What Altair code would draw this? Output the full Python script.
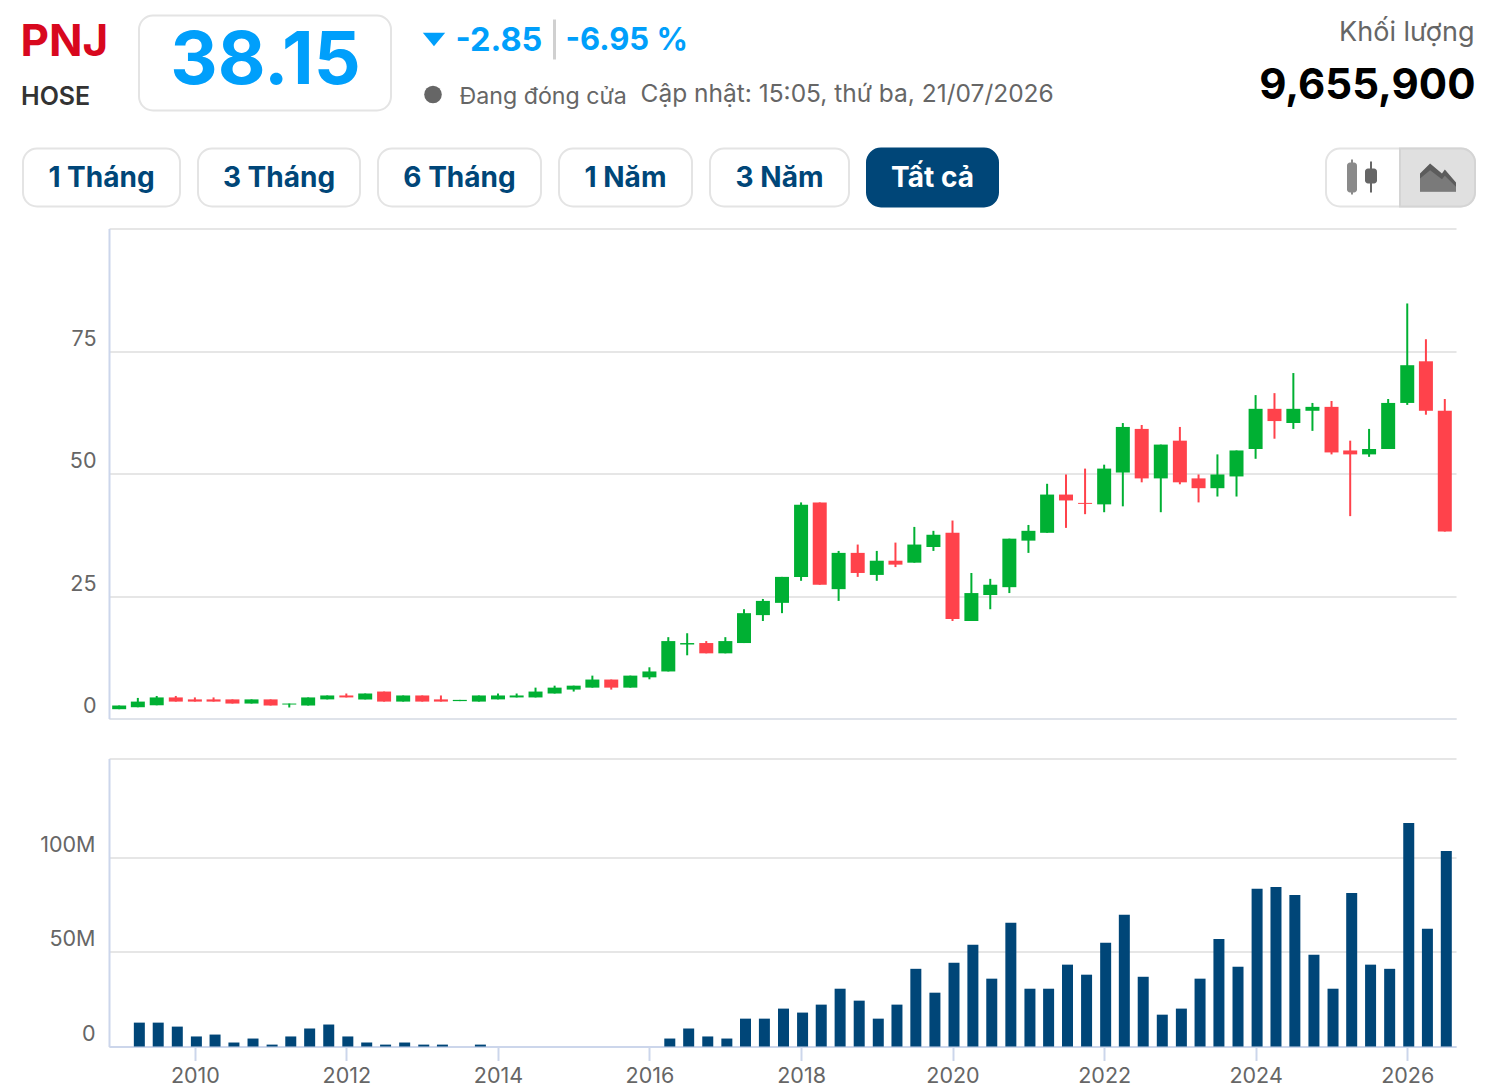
import altair as alt
import pandas as pd

# ---------- chart values ----------
OPEN = [1.9,2.3,2.7,4.3,3.9,3.9,3.9,3.05,3.9,2.85,2.65,3.9,4.7,3.9,5.5,3.45,4.7,3.9,3.55,3.45,3.9,4.3,4.3,5.1,5.9,6.3,7.95,6.3,8.4,
        9.6,15.1,15.4,13.3,15.4,21.1,23.6,28.9,44.1,26.4,33.8,29.3,32.2,31.8,35.0,37.9,19.9,25.2,26.8,36.3,37.9,
        45.7,44.0,43.7,50.2,59.1,49.0,56.7,49.0,47.0,49.4,55.0,63.2,60.3,62.8,63.6,54.7,53.9,55.0,64.4,72.9,62.8]
CLOSE = [2.65,3.45,4.3,3.45,3.45,3.45,3.05,3.9,2.65,3.05,4.3,4.7,4.3,5.1,3.45,4.7,3.45,3.45,3.8,4.7,4.7,4.7,5.5,6.3,6.7,7.95,6.3,8.75,9.6,
         15.8,15.4,13.3,15.8,21.5,24.0,28.9,43.6,27.3,33.8,29.7,32.2,31.4,35.5,37.5,20.3,25.6,27.3,36.7,38.3,45.7,
         44.5,43.8,51.0,59.5,49.0,55.9,48.2,47.0,49.8,54.7,63.2,60.7,63.2,63.6,54.3,53.9,55.0,64.4,72.1,62.8,38.15]
HIGH = [2.65,4.2,4.6,4.6,4.3,4.3,3.9,3.9,3.9,3.05,4.3,4.7,5.1,5.1,5.5,4.7,4.7,4.7,3.8,4.7,5.1,5.1,6.3,6.7,6.7,8.75,7.95,8.75,10.45,
        16.6,17.4,15.8,16.6,22.3,24.4,28.9,44.1,44.1,34.2,35.5,34.2,35.9,39.1,38.3,40.4,29.7,28.5,36.7,39.5,47.9,
        49.8,51.0,51.8,60.3,59.9,55.9,59.5,49.8,53.9,54.7,66.0,66.4,70.5,64.4,64.8,56.7,59.1,65.2,84.7,77.4,65.2]
LOW = [1.9,2.3,2.7,3.45,3.45,3.45,3.05,3.05,2.65,2.25,2.65,3.9,4.3,3.9,3.45,3.45,3.45,3.45,3.55,3.45,3.9,4.3,4.3,5.1,5.5,6.3,5.9,6.3,8.0,
       9.6,12.9,13.3,13.3,15.4,19.9,21.5,28.1,27.3,24.0,28.9,28.1,30.9,31.8,34.2,19.9,19.9,22.3,25.6,33.8,37.9,
       38.9,41.7,42.1,43.3,48.2,42.1,47.8,44.1,45.3,45.3,53.0,57.1,59.1,58.7,53.9,41.3,53.4,55.0,64.0,62.0,38.15]
VOLUME = [12.6,12.6,10.5,5.3,6.3,2.1,4.2,1.0,5.3,9.5,11.6,5.3,2.1,1.0,2.1,1.0,1.0,0,1.0,
          0,0,0,0,0,0,0,0,0,
          4.2,9.5,5.3,4.2,14.7,14.7,20.0,17.9,22.1,30.5,24.2,14.7,22.1,41.0,28.4,44.2,53.7,35.8,65.3,30.5,
          30.5,43.2,37.9,54.7,69.5,36.8,16.8,20.0,35.8,56.8,42.1,83.2,84.2,80.0,48.4,30.5,81.0,43.2,41.0,117.9,62.1,103.2]

START_YEAR = 2009
TICK_YEARS = [2010, 2012, 2014, 2016, 2018, 2020, 2022, 2024, 2026]
PRICE_TICKS = [0, 25, 50, 75, 100]
VOLUME_TICKS = [0, 50, 100, 152]

BUTTONS = ["1 Tháng", "3 Tháng", "6 Tháng", "1 Năm", "3 Năm", "Tất cả"]
# ----------------------------------

GREEN, RED = "#00b033", "#ff424b"
NAVY, BLUE = "#004678", "#009ffb"
GRID, AXIS, LABEL = "#e6e6e6", "#ccd6eb", "#666666"
FONT = "Inter"
PLOT_L, PLOT_T = 109, 229


def quarter(i):
    return f"{START_YEAR + i // 4}-{(i % 4) * 3 + 1:02d}-01"


candles = pd.DataFrame({
    "date": [quarter(i) for i in range(len(OPEN))],
    "open": OPEN, "close": CLOSE, "high": HIGH, "low": LOW,
})
candles["dir"] = ["up" if c >= o else "down" for o, c in zip(OPEN, CLOSE)]
volume = pd.DataFrame({"date": [quarter(i + 1) for i in range(len(VOLUME))], "volume": VOLUME})

x_scale = alt.Scale(domain=[alt.DateTime(year=2008, month=11, date=13),
                            alt.DateTime(year=2026, month=8, date=24)], nice=False, padding=0)
color = alt.Color("dir:N", legend=None,
                  scale=alt.Scale(domain=["up", "down"], range=[GREEN, RED]))

# header helpers: widget positions are given in page pixels
def px(x):
    return alt.value(x - PLOT_L)
def py(y):
    return alt.value(y - PLOT_T)

blank = pd.DataFrame({"k": [0]})

def text(s, x, y, size, col, weight=400, align="left"):
    return alt.Chart(blank).mark_text(text=s, font=FONT, fontSize=size, color=col, fontWeight=weight,
                                      align=align, baseline="middle").encode(x=px(x), y=py(y))

def box(x0, x1, y0, y1, fill="#ffffff", stroke="#e4e4e4", radius=14, sw=2):
    m = sw / 2
    return alt.Chart(blank).mark_rect(fill=fill, stroke=stroke, strokeWidth=sw, cornerRadius=radius).encode(
        x=px(x0 + m), x2=px(x1 - m), y=py(y0 + m), y2=py(y1 - m))

def icon(path, x, y, size, col):
    return alt.Chart(blank).mark_point(shape=path, size=size, filled=True, fill=col, stroke=None, opacity=1).encode(
        x=px(x), y=py(y))

button_x = [(22, 181), (197, 361), (377, 542), (558, 693), (709, 850), (866, 999)]
header = [
    text("PNJ", 20.5, 43.5, 44, "#d8081e", 700),
    text("HOSE", 21, 97.5, 25, "#333333", 600),
    box(138, 392, 15, 112),
    text("38.15", 265.5, 62.5, 73.5, BLUE, 700, "center"),
    icon("M-0.5,-0.3L0.5,-0.3L0,0.3Z", 434, 40, 2000, BLUE),
    text("-2.85", 455.5, 41.5, 32.5, BLUE, 700),
    box(553, 556, 20, 60, fill="#d0d0d0", stroke="#d0d0d0", radius=0, sw=0),
    text("-6.95 %", 565.5, 41.5, 31, BLUE, 700),
    icon("circle", 433, 95, 310, "#666666"),
    text("Đang đóng cửa", 459.5, 97.5, 23.2, LABEL),
    text("Cập nhật: 15:05, thứ ba, 21/07/2026", 640.5, 95.5, 24.5, LABEL),
    text("Khối lượng", 1474.5, 33.5, 27, LABEL, 400, "right"),
    text("9,655,900", 1475.5, 86.5, 42, "#000000", 700, "right"),
]
for i, (label, (a, b)) in enumerate(zip(BUTTONS, button_x)):
    active = i == len(BUTTONS) - 1
    header.append(box(a, b, 148, 208, fill=NAVY if active else "#ffffff", stroke=NAVY if active else "#e4e4e4"))
    header.append(text(label, (a + b) / 2, 179.5, 28, "#ffffff" if active else NAVY, 700, "center"))
header += [
    box(1325, 1476, 148, 208),
    alt.Chart(blank).mark_rect(fill="#e0e0e0", stroke="#d4d4d4", strokeWidth=2,
                               cornerRadiusTopRight=14, cornerRadiusBottomRight=14).encode(
        x=px(1400), x2=px(1475), y=py(149), y2=py(207)),
    box(1347, 1357, 163, 193, fill="#8a8a8a", stroke="#8a8a8a", radius=3, sw=0),
    box(1351, 1353, 160, 195, fill="#8a8a8a", stroke="#8a8a8a", radius=0, sw=0),
    box(1365, 1377, 169, 184, fill="#666666", stroke="#666666", radius=3, sw=0),
    box(1370, 1372, 162, 193, fill="#666666", stroke="#666666", radius=0, sw=0),
    icon("M-0.5,0.39 L-0.5,-0.11 L-0.22,-0.39 L0.11,-0.11 L0.19,-0.22 L0.5,0.14 L0.5,0.39 Z", 1438, 178, 5184, "#5c5c5c"),
    icon("M-0.5,0.39 L-0.5,0.03 L-0.22,-0.2 L0.11,0.05 L0.19,-0.05 L0.5,0.26 L0.5,0.39 Z", 1438, 178, 5184, "#7a7a7a"),
]

x_top = alt.X("date:T", scale=x_scale, title=None,
              axis=alt.Axis(labels=False, ticks=False, grid=False, domainColor="#dfe3ea", domainWidth=2))
y_price = alt.Y("low:Q", title=None, scale=alt.Scale(domain=[0, 100], nice=False),
                axis=alt.Axis(values=PRICE_TICKS, labelExpr="datum.value > 75 ? '' : datum.label",
                              labelFont=FONT, labelFontSize=21.5, labelColor=LABEL, labelOffset=-12,
                              labelPadding=13, ticks=False, grid=True, gridColor=GRID, gridWidth=2,
                              domainColor=AXIS, domainWidth=2))

wicks = alt.Chart(candles).mark_rule(strokeWidth=2).encode(x=x_top, y=y_price, y2="high:Q", color=color)
bodies = alt.Chart(candles).mark_bar(size=14, orient="vertical").encode(
    x=alt.X("date:T", scale=x_scale), y=alt.Y("open:Q"), y2="close:Q", color=color)
price_panel = alt.layer(wicks, bodies, *header).properties(width=1347, height=490)

x_bottom = alt.X("date:T", scale=x_scale, title=None,
                 axis=alt.Axis(values=[alt.DateTime(year=y, month=1, date=1) for y in TICK_YEARS], format="%Y",
                               labelFont=FONT, labelFontSize=21.5, labelColor=LABEL, labelPadding=5,
                               tickSize=14, tickColor=AXIS, tickWidth=2, grid=False,
                               domainColor=AXIS, domainWidth=2, labelFlush=False))
y_volume = alt.Y("volume:Q", title=None, scale=alt.Scale(domain=[0, 152], nice=False),
                 axis=alt.Axis(values=VOLUME_TICKS,
                               labelExpr="datum.value > 100 ? '' : (datum.value == 0 ? '0' : datum.value + 'M')",
                               labelFont=FONT, labelFontSize=21.5, labelColor=LABEL, labelOffset=-12,
                               labelPadding=14, ticks=False, grid=True, gridColor=GRID, gridWidth=2,
                               domainColor=AXIS, domainWidth=2))
volume_panel = alt.Chart(volume).mark_bar(size=11, color=NAVY, xOffset=1.5, orient="vertical").encode(
    x=x_bottom, y=y_volume).properties(width=1347, height=288)

chart = alt.vconcat(
    price_panel, volume_panel, spacing=40,
    padding={"left": 12, "top": 6.5, "right": 0, "bottom": 0},
    background="#ffffff").configure_view(stroke=None)

chart.save("out.html", embed_options={"renderer": "svg", "actions": False})
